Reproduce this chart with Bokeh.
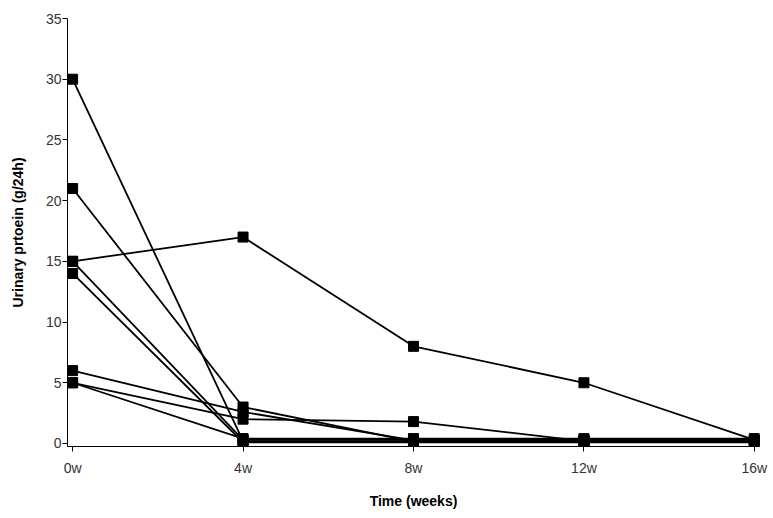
from bokeh.plotting import figure
from bokeh.models import FixedTicker, Range1d, ColumnDataSource
from bokeh.embed import file_html
from bokeh.resources import INLINE

weeks = ["0w", "4w", "8w", "12w", "16w"]
patient_1 = [30, 0.2, 0.2, 0.2, 0.2]
patient_2 = [21, 3.0, 0.15, 0.15, 0.15]
patient_3 = [15, 17, 8, 5, 0.3]
patient_4 = [15, 0.3, 0.3, 0.3, 0.3]
patient_5 = [14, 0.1, 0.1, 0.1, 0.1]
patient_6 = [6, 2.6, 0.25, 0.25, 0.25]
patient_7 = [5, 2.0, 1.8, 0.2, 0.2]
patient_8 = [5, 0.4, 0.4, 0.4, 0.4]
series = [patient_1, patient_2, patient_3, patient_4,
          patient_5, patient_6, patient_7, patient_8]
y_ticks = [0, 5, 10, 15, 20, 25, 30, 35]

xs = list(range(len(weeks)))

p = figure(width=773, height=518, output_backend="svg", toolbar_location=None,
           x_range=Range1d(-0.03, 4.03), y_range=Range1d(-0.25, 35),
           min_border_left=67, min_border_right=14, min_border_top=18,
           min_border_bottom=72)
p.outline_line_color = None
p.grid.visible = False
p.background_fill_color = "white"
p.border_fill_color = "white"

for s in series:
    src = ColumnDataSource(dict(x=xs, y=s))
    p.line("x", "y", source=src, line_color="black", line_width=1.8)
    p.scatter("x", "y", source=src, marker="square", size=10,
              fill_color="black", line_color="black")

font = "Liberation Sans"
p.xaxis.ticker = FixedTicker(ticks=xs)
p.xaxis.major_label_overrides = {i: w for i, w in enumerate(weeks)}
p.yaxis.ticker = FixedTicker(ticks=y_ticks)
for ax in (p.xaxis, p.yaxis):
    ax.axis_line_color = "black"
    ax.axis_line_width = 1
    ax.major_tick_line_color = "black"
    ax.major_tick_out = 5
    ax.major_tick_in = 0
    ax.minor_tick_line_color = None
    ax.major_label_text_font = font
    ax.major_label_text_font_size = "14px"
    ax.major_label_text_color = "#333333"
    ax.axis_label_text_font = font
    ax.axis_label_text_font_size = "14px"
    ax.axis_label_text_font_style = "bold"
    ax.axis_label_text_color = "black"
p.xaxis.major_label_standoff = 8
p.yaxis.major_label_standoff = 1
p.xaxis.axis_label = "Time (weeks)"
p.yaxis.axis_label = "Urinary prtoein (g/24h)"
p.xaxis.axis_label_standoff = 14
p.yaxis.axis_label_standoff = 17

open("out.html", "w").write(file_html(p, INLINE))
